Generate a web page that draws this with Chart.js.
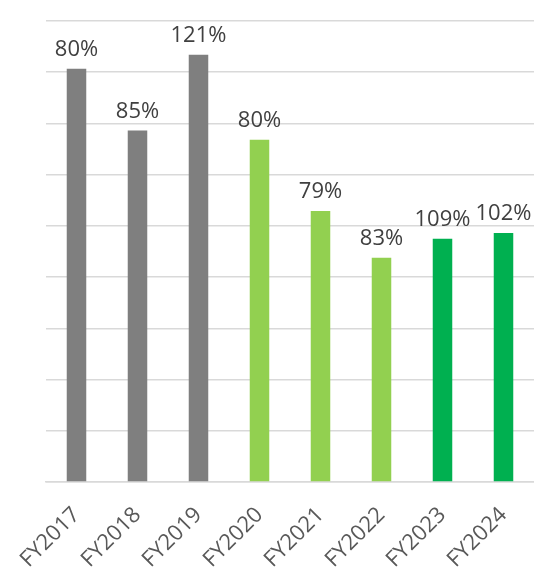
<!DOCTYPE html>
<html>
<head>
<meta charset="utf-8">
<script src="https://cdn.jsdelivr.net/npm/chart.js@4"></script>
<style>
  html, body { margin: 0; padding: 0; background: #ffffff; }
  #wrap { width: 534px; height: 573px; }
</style>
</head>
<body>
<div id="wrap"><canvas id="ratioChart" width="534" height="573"></canvas></div>
<script>
// Fiscal years and what each bar shows
const years = ['FY2017', 'FY2018', 'FY2019', 'FY2020', 'FY2021', 'FY2022', 'FY2023', 'FY2024'];
const barValues = [807, 686, 834, 668, 529, 438, 475, 486];
const ratioLabels = ['80%', '85%', '121%', '80%', '79%', '83%', '109%', '102%'];
const barColors = ['#7f7f7f', '#7f7f7f', '#7f7f7f', '#92d050', '#92d050', '#92d050', '#00b050', '#00b050'];

// writes the ratio text above each bar
const ratioLabelPlugin = {
  id: 'ratioLabels',
  afterDatasetsDraw(chart) {
    const ctx = chart.ctx;
    const meta = chart.getDatasetMeta(0);
    ctx.save();
    ctx.font = '22px "Open Sans"';
    ctx.fillStyle = '#404040';
    ctx.textAlign = 'center';
    ctx.textBaseline = 'alphabetic';
    meta.data.forEach(function (bar, i) {
      ctx.fillText(ratioLabels[i], bar.x, bar.y - 13);
    });
    ctx.restore();
  }
};

document.addEventListener('DOMContentLoaded', function () {
  const ctx = document.getElementById('ratioChart').getContext('2d');
  new Chart(ctx, {
    type: 'bar',
    data: {
      labels: years,
      datasets: [{
        data: barValues,
        backgroundColor: barColors,
        borderWidth: 0,
        barPercentage: 0.32,
        categoryPercentage: 1
      }]
    },
    options: {
      responsive: false,
      animation: false,
      layout: { padding: { left: 46, top: 21, right: 0, bottom: 0 } },
      plugins: {
        legend: { display: false },
        tooltip: { enabled: false }
      },
      scales: {
        y: {
          min: 0,
          max: 900,
          ticks: { display: false, stepSize: 100 },
          grid: { color: '#d9d9d9', lineWidth: 1.5, drawTicks: false },
          border: { display: false }
        },
        x: {
          // fixed axis band; rotated labels may spill past the edges
          afterFit(scale) {
            scale.height = 91;
            scale.paddingLeft = 0;
            scale.paddingRight = 0;
          },
          ticks: {
            minRotation: 45,
            maxRotation: 45,
            padding: 20,
            color: '#595959',
            font: { family: 'Open Sans', size: 22 }
          },
          grid: { display: false, drawTicks: false },
          border: { color: '#d9d9d9', width: 1.5 }
        }
      }
    },
    plugins: [ratioLabelPlugin]
  });
});
</script>
</body>
</html>
